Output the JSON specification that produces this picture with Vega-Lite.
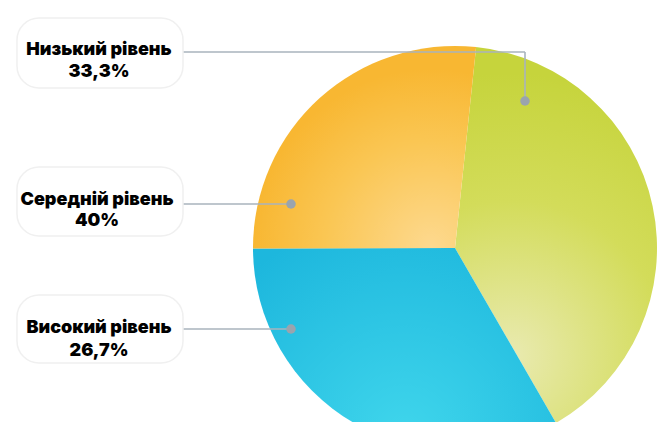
{
  "$schema": "https://vega.github.io/schema/vega-lite/v6.json",
  "width": 661,
  "height": 422,
  "autosize": {"type": "none"},
  "padding": 0,
  "background": "#ffffff",
  "config": {"view": {"stroke": null}},
  "datasets": {
    "pie": [
      {"slice": "green", "share": 40, "ord": 1},
      {"slice": "blue", "share": 33.3, "ord": 2},
      {"slice": "orange", "share": 26.7, "ord": 3}
    ],
    "labels": [
      {"level": "Низький рівень", "pct": "33,3%", "bx1": 17, "bx2": 183, "by1": 18, "by2": 88, "tx": 99, "t1": 55, "t2": 77},
      {"level": "Середній рівень", "pct": "40%", "bx1": 17, "bx2": 183, "by1": 167, "by2": 236, "tx": 97, "t1": 205, "t2": 226},
      {"level": "Високий рівень", "pct": "26,7%", "bx1": 17, "bx2": 183, "by1": 295, "by2": 363, "tx": 99, "t1": 333, "t2": 356}
    ],
    "leaders": [
      {"level": "Низький рівень", "x1": 183, "y1": 52, "x2": 525, "y2": 52},
      {"level": "Низький рівень", "x1": 525, "y1": 52, "x2": 525, "y2": 101},
      {"level": "Середній рівень", "x1": 183, "y1": 204, "x2": 291, "y2": 204},
      {"level": "Високий рівень", "x1": 183, "y1": 329, "x2": 291, "y2": 329}
    ],
    "dots": [
      {"level": "Низький рівень", "x": 525, "y": 101},
      {"level": "Середній рівень", "x": 291, "y": 204},
      {"level": "Високий рівень", "x": 291, "y": 329}
    ]
  },
  "layer": [
    {
      "data": {"name": "pie"},
      "transform": [
        {"stack": "share", "groupby": [], "sort": [{"field": "ord"}], "as": ["s0", "s1"]},
        {"filter": "datum.slice === 'green'"}
      ],
      "mark": {"type": "arc", "outerRadius": 202,
        "fill": {"gradient": "radial", "x1": 0.38, "y1": 0.82, "r1": 0, "x2": 0.38, "y2": 0.82, "r2": 0.75,
          "stops": [{"offset": 0, "color": "#e9eab0"}, {"offset": 0.55, "color": "#d3dc5a"}, {"offset": 1, "color": "#c6d43c"}]}},
      "encoding": {
        "theta": {"field": "s0", "type": "quantitative", "scale": {"domain": [0, 100], "range": [0.1047, 6.3879]}},
        "theta2": {"field": "s1"},
        "x": {"datum": 455, "type": "quantitative", "scale": {"domain": [0, 661], "nice": false, "zero": false}, "axis": null},
        "y": {"datum": 248, "type": "quantitative", "scale": {"domain": [0, 422], "nice": false, "zero": false, "reverse": true}, "axis": null}
      }
    },
    {
      "data": {"name": "pie"},
      "transform": [
        {"stack": "share", "groupby": [], "sort": [{"field": "ord"}], "as": ["s0", "s1"]},
        {"filter": "datum.slice === 'blue'"}
      ],
      "mark": {"type": "arc", "outerRadius": 202,
        "fill": {"gradient": "radial", "x1": 0.5, "y1": 0.8, "r1": 0, "x2": 0.5, "y2": 0.8, "r2": 0.75,
          "stops": [{"offset": 0, "color": "#40d6ec"}, {"offset": 1, "color": "#1db7dd"}]}},
      "encoding": {
        "theta": {"field": "s0", "type": "quantitative"},
        "theta2": {"field": "s1"},
        "x": {"datum": 455, "type": "quantitative"},
        "y": {"datum": 248, "type": "quantitative"}
      }
    },
    {
      "data": {"name": "pie"},
      "transform": [
        {"stack": "share", "groupby": [], "sort": [{"field": "ord"}], "as": ["s0", "s1"]},
        {"filter": "datum.slice === 'orange'"}
      ],
      "mark": {"type": "arc", "outerRadius": 202,
        "fill": {"gradient": "radial", "x1": 0.8, "y1": 0.95, "r1": 0, "x2": 0.8, "y2": 0.95, "r2": 0.8,
          "stops": [{"offset": 0, "color": "#fdd98f"}, {"offset": 0.6, "color": "#fac653"}, {"offset": 1, "color": "#f8b732"}]}},
      "encoding": {
        "theta": {"field": "s0", "type": "quantitative"},
        "theta2": {"field": "s1"},
        "x": {"datum": 455, "type": "quantitative"},
        "y": {"datum": 248, "type": "quantitative"}
      }
    },
    {
      "data": {"name": "leaders"},
      "mark": {"type": "rule", "color": "#a8b3bd", "strokeWidth": 1.6},
      "encoding": {
        "x": {"field": "x1", "type": "quantitative"},
        "y": {"field": "y1", "type": "quantitative"},
        "x2": {"field": "x2"},
        "y2": {"field": "y2"}
      }
    },
    {
      "data": {"name": "dots"},
      "mark": {"type": "point", "filled": true, "color": "#9aa4ae", "size": 90, "opacity": 1},
      "encoding": {
        "x": {"field": "x", "type": "quantitative"},
        "y": {"field": "y", "type": "quantitative"}
      }
    },
    {
      "data": {"name": "labels"},
      "mark": {"type": "rect", "fill": "#ffffff", "stroke": "#f0f0f0", "strokeWidth": 1.5, "cornerRadius": 22},
      "encoding": {
        "x": {"field": "bx1", "type": "quantitative"},
        "x2": {"field": "bx2"},
        "y": {"field": "by1", "type": "quantitative"},
        "y2": {"field": "by2"}
      }
    },
    {
      "data": {"name": "labels"},
      "mark": {"type": "text", "font": "Inter", "fontWeight": 900, "fontSize": 18, "color": "#000000", "baseline": "alphabetic", "align": "center"},
      "encoding": {
        "x": {"field": "tx", "type": "quantitative"},
        "y": {"field": "t1", "type": "quantitative"},
        "text": {"field": "level"}
      }
    },
    {
      "data": {"name": "labels"},
      "mark": {"type": "text", "font": "Inter", "fontWeight": 900, "fontSize": 18, "color": "#000000", "baseline": "alphabetic", "align": "center"},
      "encoding": {
        "x": {"field": "tx", "type": "quantitative"},
        "y": {"field": "t2", "type": "quantitative"},
        "text": {"field": "pct"}
      }
    }
  ]
}
